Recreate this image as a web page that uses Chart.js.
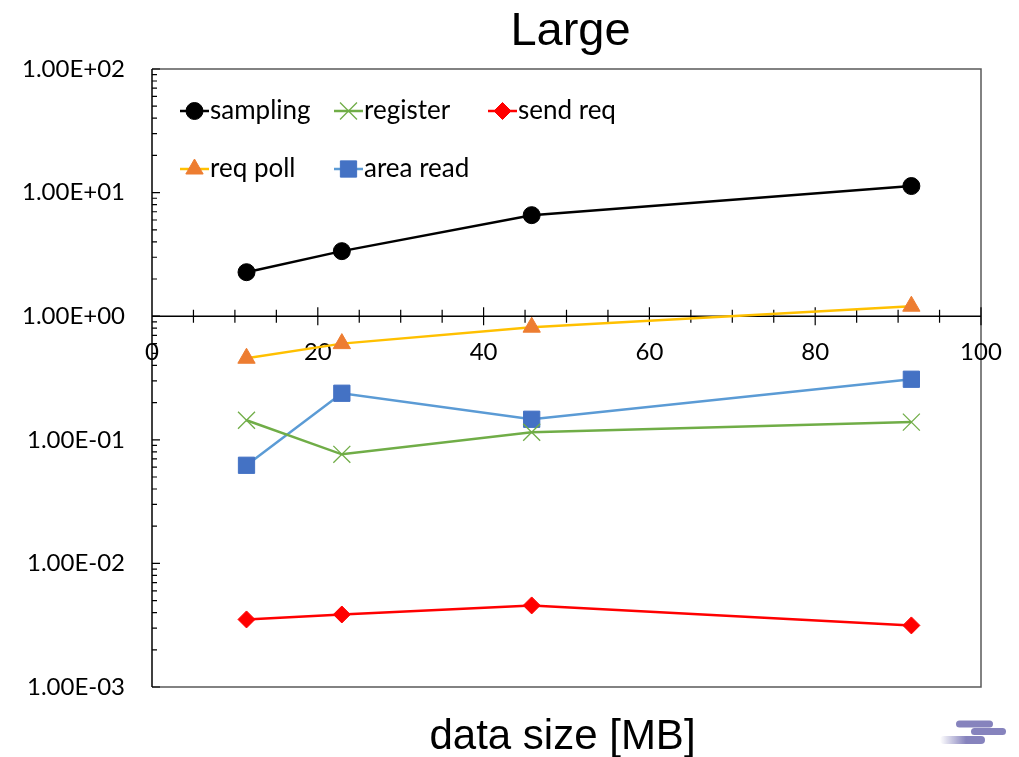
<!DOCTYPE html>
<html>
<head>
<meta charset="utf-8">
<title>Large</title>
<script src="https://cdn.jsdelivr.net/npm/chart.js@4.4.1/dist/chart.umd.min.js"></script>
<style>
  html, body { margin: 0; padding: 0; background: #ffffff; overflow: hidden; }
  canvas { display: block; }
</style>
</head>
<body>
<canvas id="chart" width="1019" height="757"></canvas>
<script>
// Measured times per stage for each data size (log scale)
const dataSizes = [11.4, 22.9, 45.8, 91.6];
const sampling  = [2.27, 3.36, 6.57, 11.3];
const register  = [0.144, 0.0763, 0.115, 0.139];
const sendReq   = [0.00352, 0.00386, 0.00457, 0.00315];
const reqPoll   = [0.457, 0.600, 0.815, 1.205];
const areaRead  = [0.0622, 0.238, 0.1466, 0.309];

// Axis ticks
const yTickValues = [0.001, 0.01, 0.1, 1, 10, 100];
const yTickLabels = ['1.00E-03', '1.00E-02', '1.00E-01', '1.00E+00', '1.00E+01', '1.00E+02'];
const xTickValues = [0, 20, 40, 60, 80, 100];
const xTickLabels = ['0', '20', '40', '60', '80', '100'];
const xMinorStep = 5;
const xAxisCrossesAt = 1;

const titleText = 'Large';
const xTitleText = 'data size [MB]';

const labelFont = '24px Lato, "Open Sans", sans-serif';
const legendFont = '26px Lato, "Open Sans", sans-serif';

const series = [
  { label: 'sampling',  values: sampling, line: '#000000', fill: '#000000', edge: '#000000', style: 'circle',   radius: 8.5, edgeWidth: 1 },
  { label: 'register',  values: register, line: '#70AD47', fill: '#70AD47', edge: '#70AD47', style: 'crossRot', radius: 12,  edgeWidth: 1.3 },
  { label: 'send req',  values: sendReq,  line: '#FF0000', fill: '#FF0000', edge: '#FF0000', style: 'rectRot',  radius: 8.5, edgeWidth: 1 },
  { label: 'req poll',  values: reqPoll,  line: '#FFC000', fill: '#ED7D31', edge: '#ED7D31', style: 'triangle', radius: 10,  edgeWidth: 1 },
  { label: 'area read', values: areaRead, line: '#5B9BD5', fill: '#4472C4', edge: '#4472C4', style: 'rect',     radius: 11.5, edgeWidth: 1 }
];

// Legend layout inside the plot area: two rows
const legendRows = [
  [{ i: 0, x: 180 }, { i: 1, x: 334 }, { i: 2, x: 488 }],
  [{ i: 3, x: 180 }, { i: 4, x: 334 }]
];
const legendRowY = [111, 169];

const datasets = series.map(s => ({
  label: s.label,
  data: dataSizes.map((x, k) => ({ x: x, y: s.values[k] })),
  showLine: true,
  borderColor: s.line,
  borderWidth: 2.5,
  backgroundColor: s.fill,
  pointStyle: s.style,
  pointRadius: s.radius,
  pointHoverRadius: s.radius,
  pointBackgroundColor: s.fill,
  pointBorderColor: s.edge,
  pointBorderWidth: s.edgeWidth,
  tension: 0,
  clip: false
}));

// Axis lines, crossing x axis at y = 1, frame and tick marks
const axesPlugin = {
  id: 'excelAxes',
  beforeDatasetsDraw(chart) {
    const { ctx, chartArea: a, scales: { x, y } } = chart;
    ctx.save();
    ctx.lineCap = 'butt';

    // frame
    ctx.strokeStyle = '#595959';
    ctx.lineWidth = 1.5;
    ctx.beginPath();
    ctx.moveTo(a.left, a.top);
    ctx.lineTo(a.right, a.top);
    ctx.lineTo(a.right, a.bottom);
    ctx.lineTo(a.left, a.bottom);
    ctx.stroke();

    // y axis line
    ctx.strokeStyle = '#000000';
    ctx.lineWidth = 1.5;
    ctx.beginPath();
    ctx.moveTo(a.left, a.top);
    ctx.lineTo(a.left, a.bottom);
    ctx.stroke();

    // y ticks: decades long, 2..9 short (pointing inward)
    ctx.lineWidth = 1.2;
    ctx.beginPath();
    yTickValues.forEach((d, k) => {
      const py = y.getPixelForValue(d);
      ctx.moveTo(a.left, py);
      ctx.lineTo(a.left + 8, py);
      if (k < yTickValues.length - 1) {
        for (let m = 2; m <= 9; m++) {
          const pm = y.getPixelForValue(d * m);
          ctx.moveTo(a.left, pm);
          ctx.lineTo(a.left + 5, pm);
        }
      }
    });
    ctx.stroke();

    // x axis line at y = 1
    const y0 = y.getPixelForValue(xAxisCrossesAt);
    ctx.lineWidth = 1.5;
    ctx.beginPath();
    ctx.moveTo(a.left, y0);
    ctx.lineTo(a.right, y0);
    ctx.stroke();

    // x ticks crossing the axis
    ctx.lineWidth = 1.2;
    ctx.beginPath();
    const xMin = xTickValues[0], xMax = xTickValues[xTickValues.length - 1];
    for (let v = xMin; v <= xMax; v += xMinorStep) {
      const px = x.getPixelForValue(v);
      const major = xTickValues.includes(v);
      const len = major ? 9 : 6.5;
      if (v === xMin) continue;
      ctx.moveTo(px, y0 - len);
      ctx.lineTo(px, y0 + len);
    }
    ctx.stroke();

    // x tick labels
    ctx.fillStyle = '#000000';
    ctx.font = labelFont;
    ctx.textAlign = 'center';
    ctx.textBaseline = 'middle';
    xTickValues.forEach((v, k) => {
      ctx.fillText(xTickLabels[k], x.getPixelForValue(v), y0 + 36);
    });
    ctx.restore();
  },
  afterDraw(chart) {
    const { ctx, chartArea: a } = chart;
    const drawPoint = Chart.helpers.drawPoint;
    ctx.save();

    // title
    ctx.fillStyle = '#000000';
    ctx.font = '47px "Liberation Sans", Arial, sans-serif';
    ctx.textAlign = 'center';
    ctx.textBaseline = 'alphabetic';
    ctx.fillText(titleText, (a.left + a.right) / 2 + 4, 45);

    // x axis title
    ctx.font = '42px "Liberation Sans", Arial, sans-serif';
    ctx.fillText(xTitleText, (a.left + a.right) / 2 - 4, 749);

    // legend
    ctx.font = legendFont;
    ctx.textAlign = 'left';
    ctx.textBaseline = 'middle';
    legendRows.forEach((row, r) => {
      const ly = legendRowY[r];
      row.forEach(item => {
        const s = series[item.i];
        ctx.strokeStyle = s.line;
        ctx.lineWidth = 2.5;
        ctx.beginPath();
        ctx.moveTo(item.x, ly);
        ctx.lineTo(item.x + 29, ly);
        ctx.stroke();
        ctx.fillStyle = s.fill;
        ctx.strokeStyle = s.edge;
        ctx.lineWidth = s.edgeWidth;
        drawPoint(ctx, { pointStyle: s.style, radius: s.radius, rotation: 0, borderWidth: s.edgeWidth }, item.x + 14.5, ly);
        ctx.fillStyle = '#000000';
        ctx.fillText(s.label, item.x + 30, ly);
      });
    });

    // corner mark
    const bars = [
      { x: 956, y: 720.5, w: 37, h: 7 },
      { x: 971, y: 728, w: 35, h: 7 },
      { x: 940, y: 736, w: 45, h: 8 }
    ];
    bars.forEach((b, k) => {
      let fill = '#8683BD';
      if (k === 2) {
        const g = ctx.createLinearGradient(b.x, 0, b.x + 26, 0);
        g.addColorStop(0, 'rgba(134,131,189,0)');
        g.addColorStop(1, 'rgba(134,131,189,1)');
        fill = g;
      }
      ctx.fillStyle = fill;
      ctx.beginPath();
      ctx.roundRect(b.x, b.y, b.w, b.h, b.h / 2);
      ctx.fill();
    });
    ctx.restore();
  }
};

new Chart(document.getElementById('chart'), {
  type: 'scatter',
  data: { datasets: datasets },
  options: {
    responsive: false,
    animation: false,
    events: [],
    layout: { padding: { left: 0, top: 69, right: 38, bottom: 70 } },
    plugins: {
      legend: { display: false },
      title: { display: false },
      tooltip: { enabled: false }
    },
    scales: {
      x: {
        type: 'linear',
        min: xTickValues[0],
        max: xTickValues[xTickValues.length - 1],
        display: false
      },
      y: {
        type: 'logarithmic',
        min: yTickValues[0],
        max: yTickValues[yTickValues.length - 1],
        afterFit(scale) { scale.width = 152; },
        afterBuildTicks(scale) { scale.ticks = yTickValues.map(v => ({ value: v })); },
        grid: { display: false, drawTicks: false },
        border: { display: false },
        ticks: {
          autoSkip: false,
          padding: 27,
          color: '#000000',
          font: { family: 'Lato, "Open Sans", sans-serif', size: 24 },
          callback: (value, index) => yTickLabels[index]
        }
      }
    }
  },
  plugins: [axesPlugin]
});
</script>
</body>
</html>
